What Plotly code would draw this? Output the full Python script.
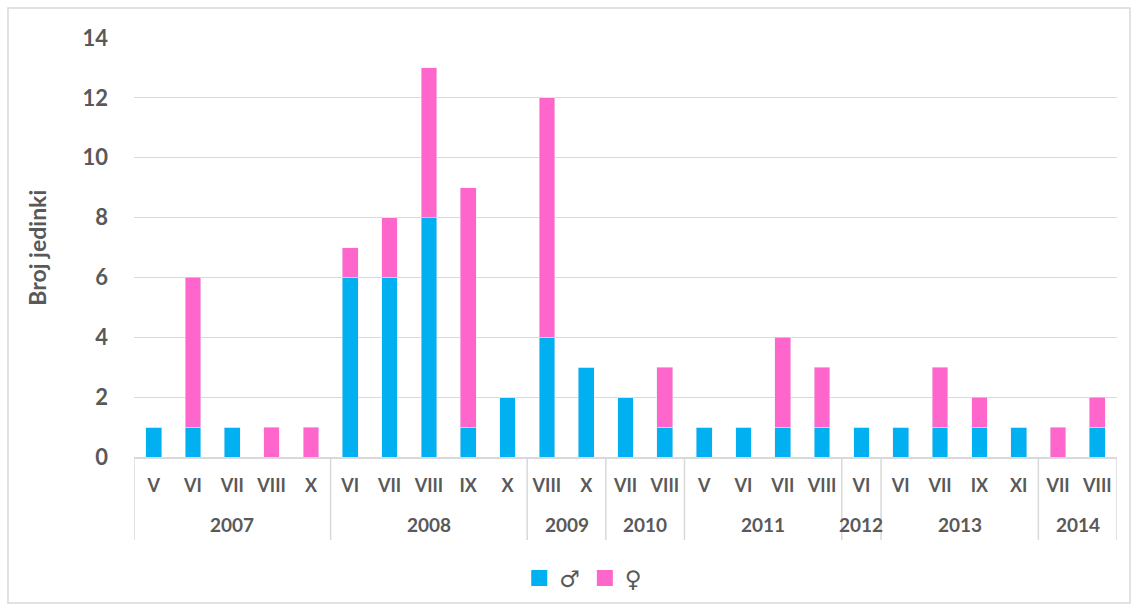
import plotly.graph_objects as go

# year / month categories
years = ["2007"] * 5 + ["2008"] * 5 + ["2009"] * 2 + ["2010"] * 2 + ["2011"] * 4 + ["2012"] + ["2013"] * 4 + ["2014"] * 2
months = ["V", "VI", "VII", "VIII", "X",
          "VI", "VII", "VIII", "IX", "X",
          "VIII", "X",
          "VII", "VIII",
          "V", "VI", "VII", "VIII",
          "VI",
          "VI", "VII", "IX", "XI",
          "VII", "VIII"]

# counts
males = [1, 1, 1, 0, 0,
         6, 6, 8, 1, 2,
         4, 3,
         2, 1,
         1, 1, 1, 1,
         1,
         1, 1, 1, 1,
         0, 1]
females = [0, 5, 0, 1, 1,
           1, 2, 5, 8, 0,
           8, 0,
           0, 2,
           0, 0, 3, 2,
           0,
           0, 2, 1, 0,
           1, 1]

grey = "#595959"
line_grey = "#D9D9D9"
blue, pink = "#00B0F0", "#FF66CC"
idx = list(range(len(months)))

fig = go.Figure()
fig.add_trace(go.Bar(x=idx, y=males, name="♂", marker_color=blue, showlegend=False))
fig.add_trace(go.Bar(x=idx, y=females, name="♀", marker_color=pink, showlegend=False))
# legend entries with bigger squares
for name, col in [("♂", blue), ("♀", pink)]:
    fig.add_trace(go.Scatter(x=[None], y=[None], mode="markers", name=name,
                             marker=dict(symbol="square", size=18, color=col)))

# year labels + group dividers
groups = []
for i, yr in enumerate(years):
    if not groups or groups[-1][0] != yr:
        groups.append([yr, i, i])
    else:
        groups[-1][2] = i
for yr, a, b in groups:
    fig.add_annotation(x=(a + b) / 2, y=-0.162, xref="x", yref="paper", text=yr,
                       showarrow=False, yanchor="middle",
                       font=dict(size=19, color=grey, family="Lato", weight="bold"))
    fig.add_shape(type="line", xref="x", yref="paper", x0=a - 0.5, x1=a - 0.5, y0=0, y1=-0.198,
                  line=dict(color=line_grey, width=1.5))
fig.add_shape(type="line", xref="x", yref="paper", x0=len(idx) - 0.5, x1=len(idx) - 0.5, y0=0, y1=-0.198,
              line=dict(color=line_grey, width=1.5))

fig.add_annotation(x=-0.0995, y=0.5, xref="paper", yref="paper", text="Broj jedinki",
                   textangle=-90, showarrow=False, xanchor="center",
                   font=dict(size=23, color=grey, family="Lato", weight="bold"))

fig.update_layout(
    barmode="stack",
    bargap=0.6,
    width=1137, height=611,
    margin=dict(l=134, r=20, t=38, b=154),
    paper_bgcolor="white", plot_bgcolor="white",
    font=dict(family="Lato", size=16, color=grey),
    legend=dict(orientation="h", x=0.457, xanchor="center", y=-0.289, yanchor="middle",
                font=dict(size=23, family="DejaVu Sans"), itemwidth=30, traceorder="normal"),
    yaxis=dict(range=[0, 14], dtick=2, showgrid=True, gridcolor=line_grey,
               zeroline=False, automargin=False, ticklabelstandoff=25,
               tickfont=dict(size=22, family="Lato", weight="bold")),
    xaxis=dict(tickvals=idx, ticktext=months, range=[-0.5, len(idx) - 0.5],
               showline=True, linecolor=line_grey, linewidth=1.5, automargin=False,
               ticklabelstandoff=12, showgrid=False,
               tickfont=dict(size=18, family="Lato", weight="bold")),
)
fig.add_shape(type="rect", xref="paper", yref="paper", x0=-0.1282, x1=1.0132, y0=-0.3484, y1=1.0716,
              line=dict(color=line_grey, width=1.5))

# drop the default page margin so the figure fills the window exactly
fig.write_html("out.html", config={"displayModeBar": False},
               post_script="document.body.style.margin='0';document.body.style.overflow='hidden';")
